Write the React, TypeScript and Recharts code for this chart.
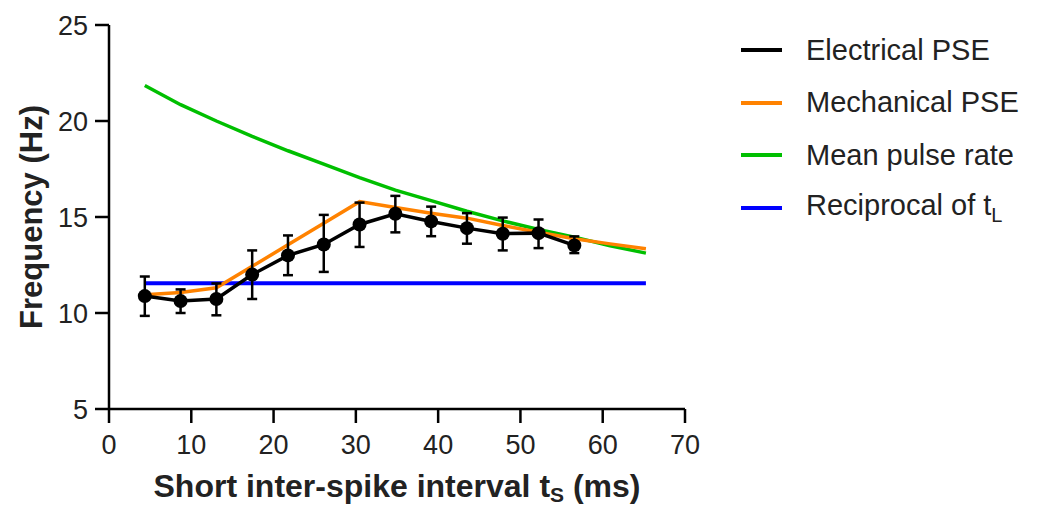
import { LineChart, Line, XAxis, YAxis, ErrorBar, Legend, Label } from 'recharts'

const FONT = '"Liberation Sans", Arial, Helvetica, sans-serif'

// short inter-spike interval (ms)
const intervals = [4.35, 8.7, 13.05, 17.4, 21.75, 26.1, 30.45, 34.8, 39.15, 43.5, 47.85, 52.2, 56.55, 60.9, 65.25]

const electrical = [10.88, 10.62, 10.73, 12.0, 13.0, 13.57, 14.61, 15.17, 14.77, 14.42, 14.13, 14.16, 13.52]
const electricalUpper = [11.9, 11.23, 11.54, 13.26, 14.04, 15.11, 15.75, 16.1, 15.54, 15.2, 14.97, 14.87, 13.99]
const electricalLower = [9.85, 10.0, 9.88, 10.73, 11.97, 12.14, 13.44, 14.2, 14.0, 13.61, 13.26, 13.38, 13.12]
const mechanical = [10.95, 11.07, 11.31, 12.43, 13.55, 14.68, 15.8, 15.5, 15.2, 14.94, 14.56, 14.21, 13.87, 13.6, 13.35]
const meanPulse = [21.85, 20.85, 20.0, 19.2, 18.45, 17.75, 17.05, 16.4, 15.85, 15.3, 14.8, 14.35, 13.95, 13.5, 13.12]
const reciprocal = [11.55, 11.55, 11.55, 11.55, 11.55, 11.55, 11.55, 11.55, 11.55, 11.55, 11.55, 11.55, 11.55, 11.55, 11.55]

const xTicks = [0, 10, 20, 30, 40, 50, 60, 70]
const yTicks = [5, 10, 15, 20, 25]

const series = [
  { key: 'electrical', name: 'Electrical PSE', color: '#000000' },
  { key: 'mechanical', name: 'Mechanical PSE', color: '#ff8200' },
  { key: 'meanPulse', name: 'Mean pulse rate', color: '#00bf00' },
  { key: 'reciprocal', name: 'Reciprocal of t', sub: 'L', color: '#0000ff' },
]

const rows = intervals.map((x, i) => ({
  x,
  electrical: electrical[i],
  err: electrical[i] != null ? [electrical[i] - electricalLower[i], electricalUpper[i] - electrical[i]] : undefined,
  mechanical: mechanical[i],
  meanPulse: meanPulse[i],
  reciprocal: reciprocal[i],
}))

const axisStyle = { stroke: '#000', strokeWidth: 2.5 }
const tickStyle = { fill: '#222', fontSize: 27, fontFamily: FONT }

function LegendBox() {
  return (
    <div style={{ fontFamily: FONT, fontSize: 29, color: '#222', textAlign: 'left' }}>
      {series.map((s) => (
        <div key={s.key} style={{ height: 52.5, display: 'flex', alignItems: 'center' }}>
          <span style={{ display: 'inline-block', width: 41, height: 4, background: s.color, marginRight: 24 }} />
          <span>
            {s.name}
            {s.sub && <sub style={{ fontSize: 20 }}>{s.sub}</sub>}
          </span>
        </div>
      ))}
    </div>
  )
}

function App() {
  return (
    <div style={{ position: 'absolute', left: 0, top: 0 }}>
      <LineChart width={1037} height={508} data={rows} margin={{ top: 25, right: 352, bottom: 0, left: 0 }}>
        <XAxis
          dataKey="x"
          type="number"
          domain={[0, 70]}
          ticks={xTicks}
          interval={0}
          height={99}
          axisLine={axisStyle}
          tickLine={axisStyle}
          tickSize={14}
          tickMargin={12}
          tick={tickStyle}
        >
          <Label
            content={({ viewBox }: any) => (
              <text
                x={viewBox.x + viewBox.width / 2}
                y={497}
                textAnchor="middle"
                fontFamily={FONT}
                fontWeight="bold"
                fontSize={32}
                fill="#222"
              >
                Short inter-spike interval t
                <tspan fontSize={21} dy={5}>S</tspan>
                <tspan dy={-5}> (ms)</tspan>
              </text>
            )}
          />
        </XAxis>
        <YAxis
          type="number"
          domain={[5, 25]}
          ticks={yTicks}
          interval={0}
          width={109}
          axisLine={axisStyle}
          tickLine={axisStyle}
          tickSize={14}
          tickMargin={7}
          tick={tickStyle}
        >
          <Label
            content={({ viewBox }: any) => {
              const cx = 42
              const cy = viewBox.y + viewBox.height / 2
              return (
                <text
                  x={cx}
                  y={cy}
                  transform={`rotate(-90, ${cx}, ${cy})`}
                  textAnchor="middle"
                  fontFamily={FONT}
                  fontWeight="bold"
                  fontSize={31}
                  fill="#222"
                >
                  Frequency (Hz)
                </text>
              )
            }}
          />
        </YAxis>
        <Legend
          layout="horizontal"
          verticalAlign="middle"
          align="center"
          content={() => <LegendBox />}
          wrapperStyle={{ left: 741, top: 24, width: 296 }}
        />
        <Line dataKey="reciprocal" stroke="#0000ff" strokeWidth={4} dot={false} activeDot={false} isAnimationActive={false} />
        <Line dataKey="meanPulse" stroke="#00bf00" strokeWidth={3.5} dot={false} activeDot={false} isAnimationActive={false} />
        <Line dataKey="mechanical" stroke="#ff8200" strokeWidth={3.5} dot={false} activeDot={false} isAnimationActive={false} />
        <Line
          dataKey="electrical"
          stroke="#000"
          strokeWidth={3.5}
          dot={{ r: 7, fill: '#000', stroke: '#000', strokeWidth: 0 }}
          activeDot={false}
          isAnimationActive={false}
        >
          <ErrorBar dataKey="err" direction="y" width={5} stroke="#000" strokeWidth={2.5} isAnimationActive={false} />
        </Line>
      </LineChart>
    </div>
  )
}

export default App
